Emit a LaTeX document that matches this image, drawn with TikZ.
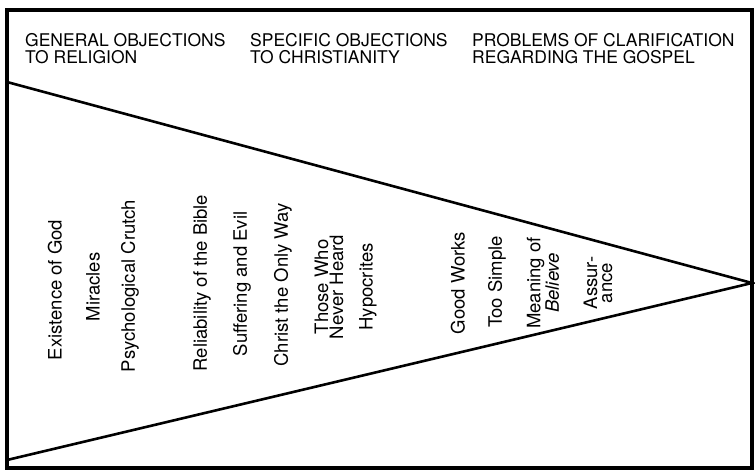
\documentclass[tikz,border=0pt]{standalone}
\usepackage{fontspec}
\setmainfont{TeX Gyre Heros}
\usepackage{tikz}

\tikzset{
  frame/.style={line width=3.2pt},
  wedge/.style={line width=2.6pt, line join=miter},
  heading/.style={anchor=north west, inner sep=0pt, align=left,
                  font=\fontsize{17.5}{17}\selectfont},
  topic/.style={rotate=90, inner sep=0pt, align=center,
                font=\fontsize{18.5}{15}\selectfont}
}

\begin{document}
\begin{tikzpicture}[x=1pt,y=-1pt]
\useasboundingbox (0,0) rectangle (755,472);
\draw [frame] (7,10) rectangle (752,468);

\coordinate (wide top) at (7,82);
\coordinate (tip) at (752,283);
\coordinate (wide bottom) at (7,460);
\draw [wedge] (wide top) -- (tip) -- (wide bottom);

\node [heading] (general) at (25,33)
       {GENERAL OBJECTIONS\\TO RELIGION};
\node [heading] (specific) at (250,33)
       {SPECIFIC OBJECTIONS\\TO CHRISTIANITY};
\node [heading] (clarify) at (472,33)
       {PROBLEMS OF CLARIFICATION\\REGARDING THE GOSPEL};

\node [topic] (god) at (55,290) {Existence of God};
\node [topic] (miracles) at (93,287) {Miracles};
\node [topic] (crutch) at (130,286) {Psychological Crutch};
\node [topic] (bible) at (202,283) {Reliability of the Bible};
\node [topic] (evil) at (242,284) {Suffering and Evil};
\node [topic] (onlyway) at (283,285) {Christ the Only Way};
\node [topic] (neverheard) at (329,287) {Those Who\\Never Heard};
\node [topic] (hypocrites) at (368,287) {Hypocrites};
\node [topic] (works) at (458,283) {Good Works};
\node [topic] (simple) at (497,282) {Too Simple};
\node [topic] (believe) at (543,283) {Meaning of\\\textit{Believe}};
\node [topic] (assurance) at (598,283) {Assur-\\ance};
\end{tikzpicture}
\end{document}
